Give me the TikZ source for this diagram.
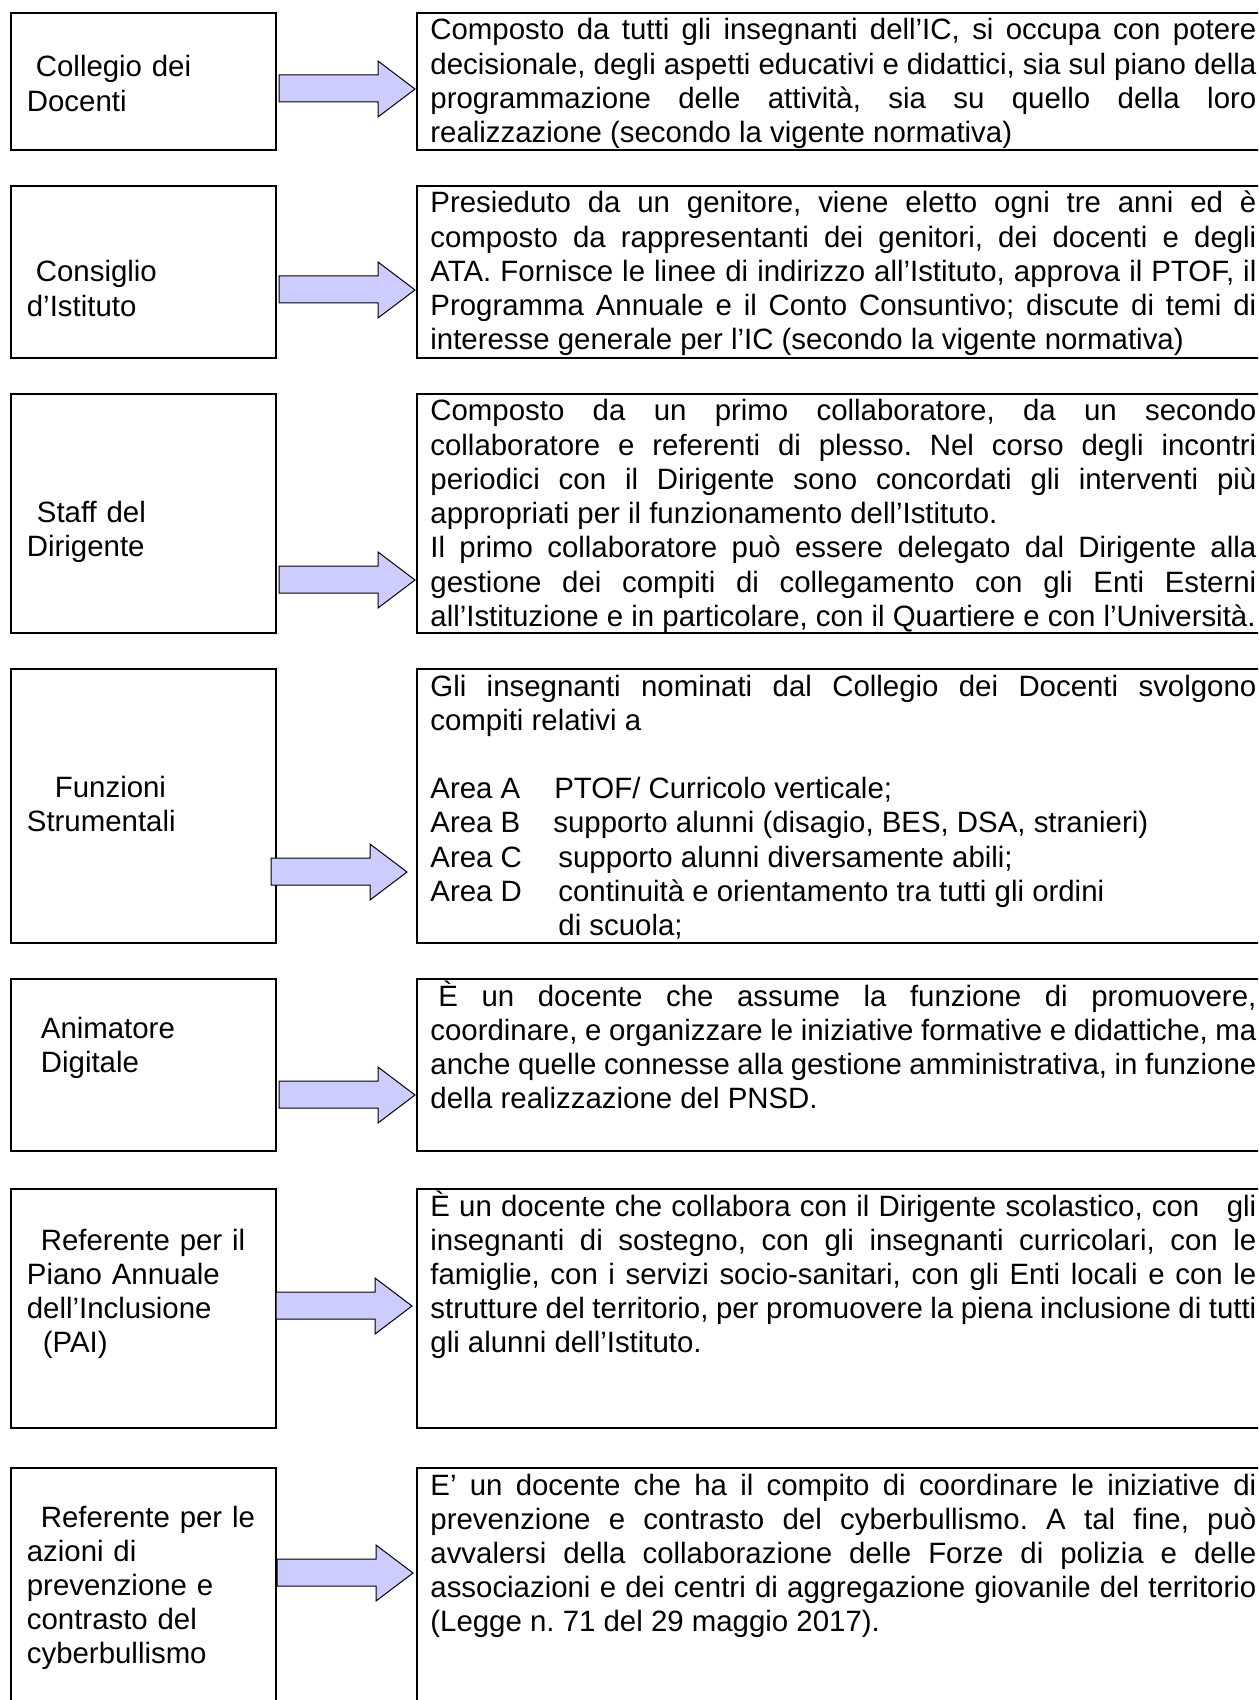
\documentclass[tikz,border=0pt]{standalone}
\usepackage{fontspec}
\setmainfont{Liberation Sans}
\definecolor{arrowfill}{HTML}{CCCCFF}
\newcommand\orgfont{\fontsize{14.7}{17.1}\selectfont\frenchspacing\tolerance=10000\hyphenpenalty=10000\exhyphenpenalty=10000}

\begin{document}
\begin{tikzpicture}[x=0.5pt,y=-0.5pt,
  organ/.style={draw, line width=1pt, inner sep=0pt, anchor=north west, minimum width=132.5pt},
  duty/.style={draw, line width=1pt, inner sep=0pt, anchor=north west, minimum width=432pt},
  organtxt/.style={anchor=base west, inner sep=0pt, text width=125pt, align=left, font=\orgfont},
  dutytxt/.style={anchor=base west, inner sep=0pt, text width=413pt, align=justify, font=\orgfont},
  blockarrow/.style={draw=black, line width=0.5pt, fill=arrowfill}]
  \useasboundingbox (0,0) rectangle (1258,1700);
  \clip (0,0) rectangle (1258,1700);

  % left column
  \node (cdd)  at (10,12)   [organ, minimum height=68.5pt] {};
  \node (cdi)  at (10,185)  [organ, minimum height=86pt] {};
  \node (sdd)  at (10,393)  [organ, minimum height=119.5pt] {};
  \node (fst)  at (10,668)  [organ, minimum height=137pt] {};
  \node (adg)  at (10,978)  [organ, minimum height=86pt] {};
  \node (pai)  at (10,1188) [organ, minimum height=119.5pt] {};
  \node (cyb)  at (10,1467) [organ, minimum height=126.5pt] {};

  \node (cddtxt) at (26.5,77)   [organtxt] {\hspace*{4.5pt}Collegio dei\\Docenti};
  \node (cditxt) at (26.5,282)  [organtxt] {\hspace*{4.5pt}Consiglio\\d’Istituto};
  \node (sddtxt) at (26.5,522)  [organtxt] {\hspace*{5pt}Staff del\\Dirigente};
  \node (fsttxt) at (26.5,797)  [organtxt] {\hspace*{14pt}Funzioni\\Strumentali};
  \node (adgtxt) at (26.5,1038) [organtxt] {\hspace*{7pt}Animatore\\\hspace*{7pt}Digitale};
  \node (paitxt) at (26.5,1250) [organtxt] {\hspace*{7pt}Referente per il\\Piano Annuale\\dell’Inclusione\\\hspace*{8pt}(PAI)};
  \node (cybtxt) at (26.5,1527) [organtxt] {\hspace*{7pt}Referente per le\\azioni di\\prevenzione e\\contrasto del\\cyberbullismo};

  % right column
  \node (cddduty) at (416,12)   [duty, minimum height=68.5pt] {};
  \node (cdiduty) at (416,185)  [duty, minimum height=86pt] {};
  \node (sddduty) at (416,393)  [duty, minimum height=119.5pt] {};
  \node (fstduty) at (416,668)  [duty, minimum height=137pt] {};
  \node (adgduty) at (416,978)  [duty, minimum height=86pt] {};
  \node (paiduty) at (416,1188) [duty, minimum height=119.5pt] {};
  \node (cybduty) at (416,1467) [duty, minimum height=126.5pt] {};

  \node (cddpar) at (430,40) [dutytxt] {Composto da tutti gli insegnanti dell’IC, si occupa con potere\linebreak
    decisionale, degli aspetti educativi e didattici, sia sul piano della\linebreak
    programmazione delle attività, sia su quello della loro\linebreak
    realizzazione (secondo la vigente normativa)};
  \node (cdipar) at (430,213) [dutytxt] {Presieduto da un genitore, viene eletto ogni tre anni ed è\linebreak
    composto da rappresentanti dei genitori, dei docenti e degli\linebreak
    ATA. Fornisce le linee di indirizzo all’Istituto, approva il PTOF, il\linebreak
    Programma Annuale e il Conto Consuntivo; discute di temi di\linebreak
    interesse generale per l’IC (secondo la vigente normativa)};
  \node (sddpar) at (430,421) [dutytxt] {Composto da un primo collaboratore, da un secondo\linebreak
    collaboratore e referenti di plesso. Nel corso degli incontri\linebreak
    periodici con il Dirigente sono concordati gli interventi più\linebreak
    appropriati per il funzionamento dell’Istituto.\\
    Il primo collaboratore può essere delegato dal Dirigente alla\linebreak
    gestione dei compiti di collegamento con gli Enti Esterni\linebreak
    all’Istituzione e in particolare, con il Quartiere e con l’Università.};
  \node (fstpar) at (430,696) [dutytxt] {Gli insegnanti nominati dal Collegio dei Docenti svolgono\linebreak
    compiti relativi a\\
    \mbox{}\\
    \makebox[62pt][l]{Area A}PTOF/ Curricolo verticale;\\
    \makebox[61.5pt][l]{Area B}supporto alunni (disagio, BES, DSA, stranieri)\\
    \makebox[64pt][l]{Area C}supporto alunni diversamente abili;\\
    \makebox[64pt][l]{Area D}continuità e orientamento tra tutti gli ordini\\
    \hspace*{64pt}di scuola;};
  \node (adgpar) at (430,1006) [dutytxt] {\hspace*{4pt}È un docente che assume la funzione di promuovere,\linebreak
    coordinare, e organizzare le iniziative formative e didattiche, ma\linebreak
    anche quelle connesse alla gestione amministrativa, in funzione\linebreak
    della realizzazione del PNSD.};
  \node (paipar) at (430,1216) [dutytxt] {È un docente che collabora con il Dirigente scolastico, con\ \ \ gli\linebreak
    insegnanti di sostegno, con gli insegnanti curricolari, con le\linebreak
    famiglie, con i servizi socio-sanitari, con gli Enti locali e con le\linebreak
    strutture del territorio, per promuovere la piena inclusione di tutti\linebreak
    gli alunni dell’Istituto.};
  \node (cybpar) at (430,1495) [dutytxt] {E’ un docente che ha il compito di coordinare le iniziative di\linebreak
    prevenzione e contrasto del cyberbullismo. A tal fine, può\linebreak
    avvalersi della collaborazione delle Forze di polizia e delle\linebreak
    associazioni e dei centri di aggregazione giovanile del territorio\linebreak
    (Legge n. 71 del 29 maggio 2017).};

  % block arrows
  \foreach \n/\tx/\ty in {cdd/415/89, cdi/415/290, sdd/415/580, fst/407/872,
                          adg/415/1095, pai/412/1306, cyb/413/1573} {
    \coordinate (\n tip) at (\tx,\ty);
    \draw[blockarrow] (\n tip) -- ++(-37,-28) -- ++(0,14) -- ++(-99,0)
      -- ++(0,27) -- ++(99,0) -- ++(0,15) -- cycle;
  }
\end{tikzpicture}
\end{document}
